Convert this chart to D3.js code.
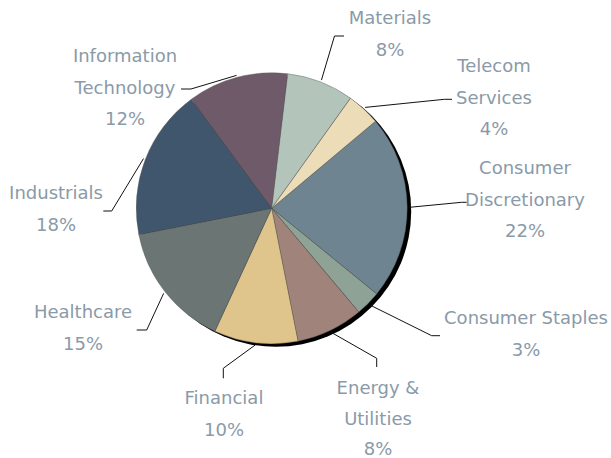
<!DOCTYPE html>
<html><head><meta charset="utf-8">
<script src="https://cdn.jsdelivr.net/npm/d3@7"></script>
<style>
html,body{margin:0;padding:0;background:#fff;}
svg{display:block;}
</style></head>
<body>
<svg id="chart" width="611" height="458"></svg>
<script>
// ---- data ----
const categories = ["Consumer Discretionary","Consumer Staples","Energy & Utilities","Financial","Healthcare","Industrials","Information Technology","Materials","Telecom Services"];
const values = [22, 3, 8, 10, 15, 18, 12, 8, 4];
const labelLines = [["Consumer","Discretionary"],["Consumer Staples"],["Energy &","Utilities"],["Financial"],["Healthcare"],["Industrials"],["Information","Technology"],["Materials"],["Telecom","Services"]];
const colors = ["#6e8490","#8ea395","#a0837b","#dfc58b","#6b7574","#40566c","#6f5a6a","#b3c4bb","#ecdcb8"];

// ---- layout (label placement, leader elbows) ----
const labelLayout = [
  {x:525, y:174, lh:31.5, elbow:[461.7,202.3], end:[466.7,202.3]},
  {x:526, y:324, lh:31.5, elbow:[431.7,335.7], end:[440,335.7]},
  {x:378, y:394, lh:30.5, elbow:[376.7,358.3], end:[376.7,367]},
  {x:224, y:404, lh:31.5, elbow:[223.3,368.3], end:[223.3,378.3]},
  {x:83,  y:318, lh:31.5, elbow:[146.7,330], end:[136.7,330]},
  {x:56,  y:199, lh:31.5, elbow:[111.7,211], end:[103.3,211]},
  {x:125, y:62,  lh:31.5, elbow:[191,89], end:[181,89]},
  {x:390, y:24,  lh:31.5, elbow:[334.5,36], end:[344,36]},
  {x:494, y:72,  lh:31.5, elbow:[444.4,99.3], end:[452,99.3]}
];
const cx = 271.7, cy = 208.3, R = 135.5;

const svg = d3.select("#chart");
const data = categories.map((c,i)=>({cat:c, value:values[i], i}));
const pie = d3.pie().value(d=>d.value).sort(null)
  .startAngle(50*Math.PI/180).endAngle(50*Math.PI/180 + 2*Math.PI);
const arcs = pie(data);
const arc = d3.arc().innerRadius(0).outerRadius(R);

const g = svg.append("g").attr("transform",`translate(${cx},${cy})`);
// shadow
g.append("circle").attr("cx",4).attr("cy",3).attr("r",R).attr("fill","#000");
g.selectAll("path.slice").data(arcs).enter().append("path")
  .attr("class","slice")
  .attr("d",arc)
  .attr("fill",d=>colors[d.data.i])
  .attr("stroke","#555")
  .attr("stroke-width",0.4);

// leader lines
const edge = d3.arc().innerRadius(R+2).outerRadius(R+2);
arcs.forEach(a=>{
  const L = labelLayout[a.data.i];
  const p = edge.centroid(a);
  const pts = [[p[0]+cx,p[1]+cy], L.elbow, L.end];
  svg.append("path")
    .attr("d", d3.line()(pts))
    .attr("fill","none")
    .attr("stroke","#111")
    .attr("stroke-width",1);
});

// labels
arcs.forEach(a=>{
  const L = labelLayout[a.data.i];
  const lines = labelLines[a.data.i].concat([a.data.value + "%"]);
  const t = svg.append("text")
    .attr("text-anchor","middle")
    .attr("font-family","'DejaVu Sans', sans-serif")
    .attr("font-size",18)
    .attr("fill","#8a9aa8");
  lines.forEach((ln,k)=>{
    t.append("tspan").attr("x",L.x).attr("y",L.y + k*L.lh).text(ln);
  });
});
</script>
</body></html>
